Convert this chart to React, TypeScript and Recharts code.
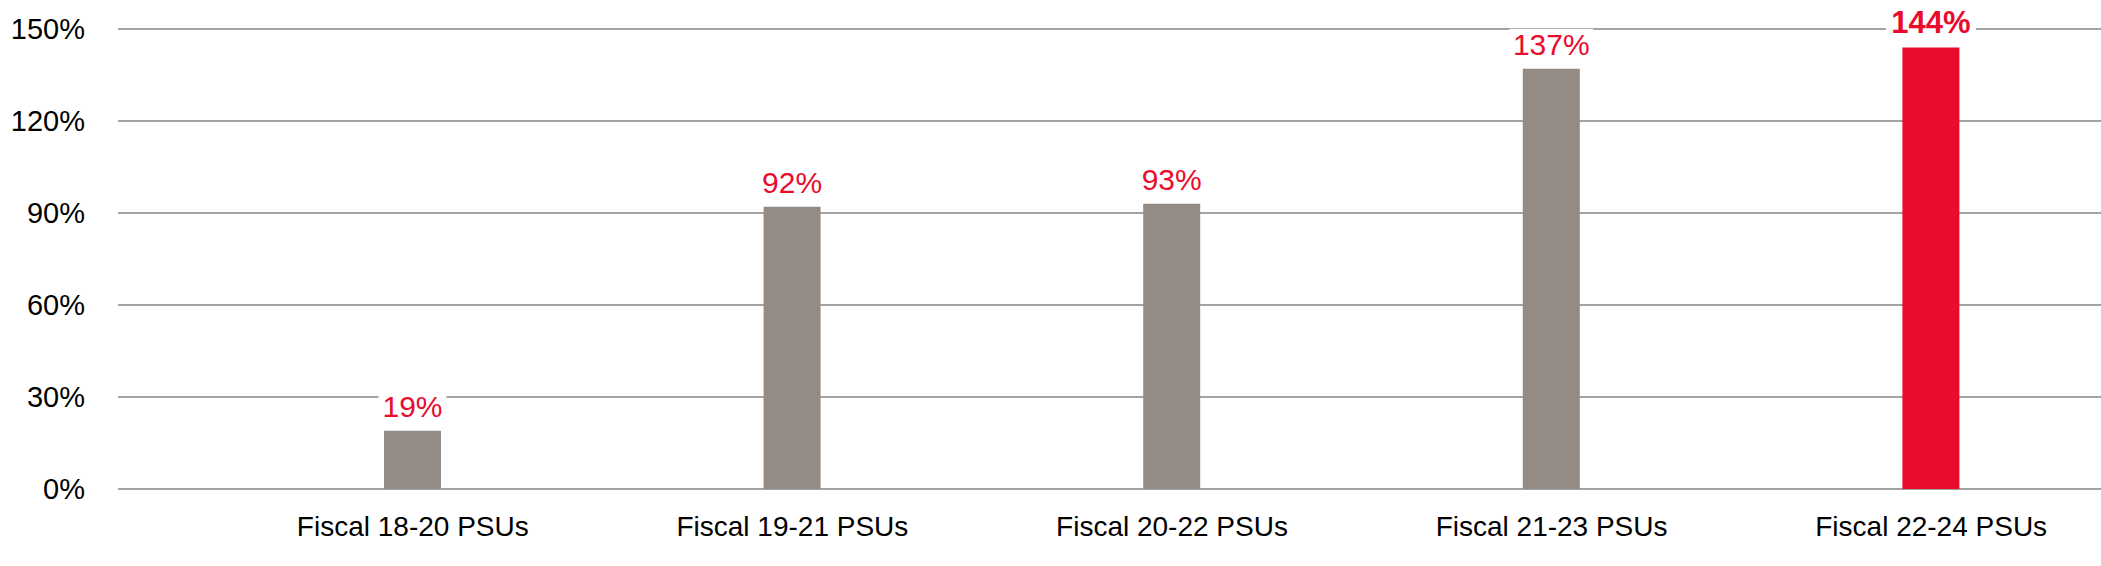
import React from "react"
import { BarChart, Bar, XAxis, YAxis, CartesianGrid, Cell, LabelList } from "recharts"

const categories = ["Fiscal 18-20 PSUs", "Fiscal 19-21 PSUs", "Fiscal 20-22 PSUs", "Fiscal 21-23 PSUs", "Fiscal 22-24 PSUs"]
const payout = [19, 92, 93, 137, 144]
const yTicks = [0, 30, 60, 90, 120, 150]
const highlightCategory = "Fiscal 22-24 PSUs"

const data = categories.map((name, i) => ({ name, value: payout[i] }))

const FONT = "'Liberation Sans', Arial, sans-serif"
const GREY = "#958b85"
const RED = "#ea0c2d"

// value label with a white box behind it, so the gridline breaks around the text
const renderLabel = (props: any) => {
  const { x, y, width, value, index } = props
  const bold = categories[index] === highlightCategory
  const cx = Number(x) + Number(width) / 2
  const base = Number(y) - 14
  const text = `${value}%`
  const boxW = bold ? 90 : text.length * 16 + 20
  return (
    <g>
      <rect x={cx - boxW / 2} y={base - 26} width={boxW} height={32} fill="#ffffff" />
      <text
        x={cx}
        y={base}
        textAnchor="middle"
        fill={RED}
        fontFamily={FONT}
        fontSize={bold ? 31 : 30}
        fontWeight={bold ? 700 : 400}
      >
        {text}
      </text>
    </g>
  )
}

export default function App() {
  return (
    <div style={{ position: "absolute", left: 0, top: 0, width: 2101, height: 566, overflow: "hidden", background: "#fff" }}>
      <BarChart width={2121} height={566} data={data} margin={{ top: 29, right: 0, left: 0, bottom: 0 }}>
        <CartesianGrid vertical={false} stroke="#a3a3a3" strokeWidth={2} />
        <XAxis
          dataKey="name"
          axisLine={false}
          tickLine={false}
          interval={0}
          height={77}
          tickMargin={21}
          padding={{ left: 105, right: 0 }}
          tick={{ fontSize: 28, fill: "#000", fontFamily: FONT }}
        />
        <YAxis
          domain={[0, 150]}
          ticks={yTicks}
          tickFormatter={(v: number) => `${v}%`}
          axisLine={false}
          tickLine={false}
          width={118}
          tickMargin={27}
          tick={{ fontSize: 29, fill: "#000", fontFamily: FONT }}
        />
        <Bar dataKey="value" barSize={57} isAnimationActive={false}>
          {data.map((d) => (
            <Cell key={d.name} fill={d.name === highlightCategory ? RED : GREY} />
          ))}
          <LabelList dataKey="value" content={renderLabel} />
        </Bar>
      </BarChart>
    </div>
  )
}
